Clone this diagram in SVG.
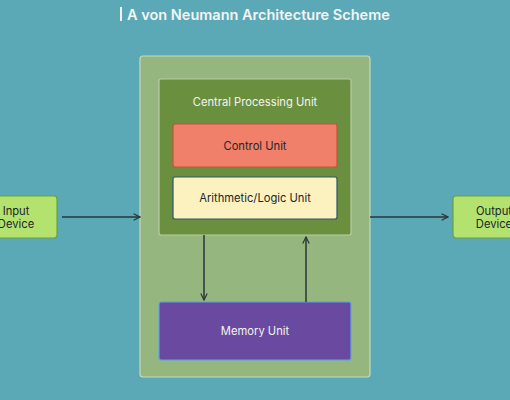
<svg xmlns="http://www.w3.org/2000/svg" width="510" height="400" viewBox="0 0 510 400">
<defs>
<style>
.t{font-family:Inter,"Noto Sans","Liberation Sans",sans-serif;font-size:11.2px;text-anchor:middle;dominant-baseline:central}
.dark{fill:#1e2626}
.light{fill:#f3f5f0}
.io{fill:#b3e26e;stroke:#6aa23a;stroke-width:1.2}
.conn{stroke:#2d3538;stroke-width:1.5;fill:none}
</style>
<marker id="ah" viewBox="0 0 10 10" refX="9" refY="5" markerWidth="8" markerHeight="8" orient="auto" markerUnits="userSpaceOnUse">
<path d="M1,1 L9,5 L1,9" fill="none" stroke="#2d3538" stroke-width="1.5"/>
</marker>
</defs>
<rect width="510" height="400" fill="#5ba8b7"/>
<g id="title">
<rect x="120" y="7" width="2" height="14" fill="#f3f5f5"/>
<text x="127" y="14" font-family="Inter,'Noto Sans','Liberation Sans',sans-serif" font-size="14.5" font-weight="600" fill="#f3f5f5" dominant-baseline="central">A von Neumann Architecture Scheme</text>
</g>
<g id="computer">
<rect x="140" y="56" width="230" height="321" rx="3" fill="#95b77f" stroke="#c9d9bb" stroke-width="1.2"/>
</g>
<g id="cpu">
<rect x="159" y="79" width="192" height="156" rx="2" fill="#6a8f3f" stroke="#b9cca6" stroke-width="1.2"/>
<text class="t light" x="255" y="102">Central Processing Unit</text>
</g>
<g id="control">
<rect x="173" y="124" width="164" height="43" rx="2" fill="#f0806a" stroke="#c4543c" stroke-width="1.2"/>
<text class="t dark" x="255" y="146">Control Unit</text>
</g>
<g id="alu">
<rect x="173" y="177" width="164" height="42" rx="2" fill="#fcf2c0" stroke="#2e5573" stroke-width="1.2"/>
<text class="t dark" x="255" y="198">Arithmetic/Logic Unit</text>
</g>
<g id="memory">
<rect x="159" y="302" width="192" height="58" rx="2" fill="#6a4aa0" stroke="#5aa4e6" stroke-width="1.2"/>
<text class="t light" x="255" y="331">Memory Unit</text>
</g>
<g id="input">
<rect class="io" x="-25" y="196" width="82" height="42" rx="3"/>
<text class="t dark" x="16" y="211">Input</text>
<text class="t dark" x="16" y="224">Device</text>
</g>
<g id="output">
<rect class="io" x="453" y="196" width="82" height="42" rx="3"/>
<text class="t dark" x="494" y="211">Output</text>
<text class="t dark" x="494" y="224">Device</text>
</g>
<g id="connectors">
<line class="conn" x1="62" y1="217" x2="140" y2="217" marker-end="url(#ah)"/>
<line class="conn" x1="370" y1="217" x2="448" y2="217" marker-end="url(#ah)"/>
<line class="conn" x1="204" y1="235" x2="204" y2="300" marker-end="url(#ah)"/>
<line class="conn" x1="306" y1="302" x2="306" y2="237" marker-end="url(#ah)"/>
</g>
</svg>
